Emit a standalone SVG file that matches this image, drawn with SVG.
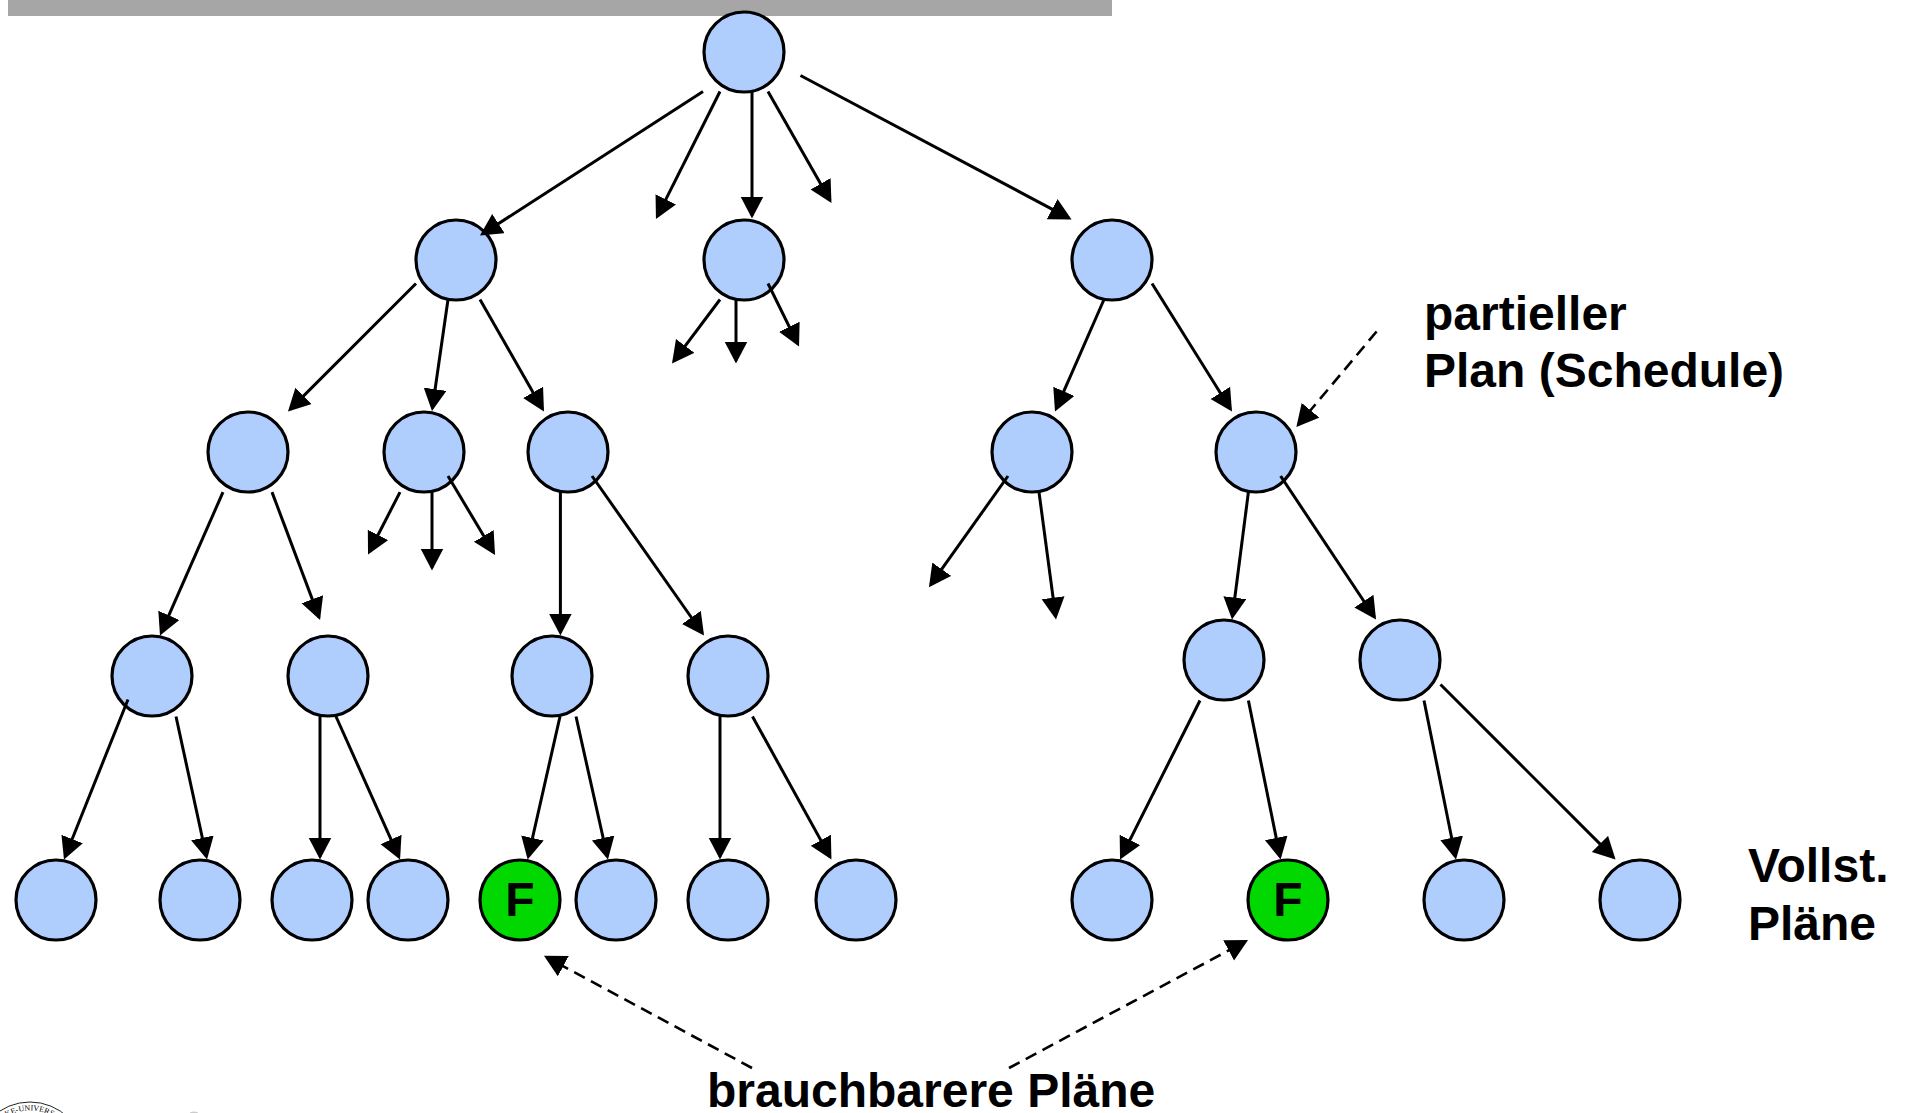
<svg xmlns="http://www.w3.org/2000/svg" width="1906" height="1113" viewBox="0 0 1906 1113">
<style>
.n{fill:#afcefe;stroke:#000;stroke-width:3.2}
.f{fill:#00d800;stroke:#000;stroke-width:3.2}
.e{stroke:#000;stroke-width:3;fill:none;marker-end:url(#a)}
.d{stroke:#000;stroke-width:2.6;fill:none;stroke-dasharray:12 7;marker-end:url(#a)}
text{font-family:"Liberation Sans",Arial,sans-serif;font-weight:700;font-size:48px;fill:#000}
.seal{font-family:"Liberation Serif",serif;font-weight:400;font-size:8px}
</style>
<defs>
<marker id="a" markerUnits="userSpaceOnUse" markerWidth="24" markerHeight="24" refX="19" refY="11.5" orient="auto"><path d="M0 0L22 11.5L0 23z" fill="#000"/></marker>
<path id="sealarc" d="M0 1121.500A46.500 46.500 0 0 1 60 1121.500"/>
</defs>
<rect id="bar" x="8" y="0" width="1104" height="16" fill="#a6a6a6"/>
<g id="nodes">
<g id="n0"><circle class="n" cx="744" cy="52" r="40"/></g>
<g id="n1"><circle class="n" cx="456" cy="260" r="40"/></g>
<g id="n2"><circle class="n" cx="744" cy="260" r="40"/></g>
<g id="n3"><circle class="n" cx="1112" cy="260" r="40"/></g>
<g id="n4"><circle class="n" cx="248" cy="452" r="40"/></g>
<g id="n5"><circle class="n" cx="424" cy="452" r="40"/></g>
<g id="n6"><circle class="n" cx="568" cy="452" r="40"/></g>
<g id="n7"><circle class="n" cx="1032" cy="452" r="40"/></g>
<g id="n8"><circle class="n" cx="1256" cy="452" r="40"/></g>
<g id="n9"><circle class="n" cx="152" cy="676" r="40"/></g>
<g id="n10"><circle class="n" cx="328" cy="676" r="40"/></g>
<g id="n11"><circle class="n" cx="552" cy="676" r="40"/></g>
<g id="n12"><circle class="n" cx="728" cy="676" r="40"/></g>
<g id="n13"><circle class="n" cx="1224" cy="660" r="40"/></g>
<g id="n14"><circle class="n" cx="1400" cy="660" r="40"/></g>
<g id="n15"><circle class="n" cx="56" cy="900" r="40"/></g>
<g id="n16"><circle class="n" cx="200" cy="900" r="40"/></g>
<g id="n17"><circle class="n" cx="312" cy="900" r="40"/></g>
<g id="n18"><circle class="n" cx="408" cy="900" r="40"/></g>
<g id="n19"><circle class="f" cx="520" cy="900" r="40"/><text x="520" y="916" text-anchor="middle">F</text></g>
<g id="n20"><circle class="n" cx="616" cy="900" r="40"/></g>
<g id="n21"><circle class="n" cx="728" cy="900" r="40"/></g>
<g id="n22"><circle class="n" cx="856" cy="900" r="40"/></g>
<g id="n23"><circle class="n" cx="1112" cy="900" r="40"/></g>
<g id="n24"><circle class="f" cx="1288" cy="900" r="40"/><text x="1288" y="916" text-anchor="middle">F</text></g>
<g id="n25"><circle class="n" cx="1464" cy="900" r="40"/></g>
<g id="n26"><circle class="n" cx="1640" cy="900" r="40"/></g>
</g>
<g id="connectors" transform="translate(0 .5)">
<path class="e" d="M703 91L482.500 233.400"/>
<path class="e" d="M720 91L657.300 215.800"/>
<path class="e" d="M752 91V215"/>
<path class="e" d="M768 91L830 199.800"/>
<path class="e" d="M800.500 75L1068.900 217.600"/>
<path class="e" d="M416 283L290.100 408.900"/>
<path class="e" d="M448 299L432.400 407.500"/>
<path class="e" d="M480 299L542.500 408.400"/>
<path class="e" d="M720 299L673.800 360.600"/>
<path class="e" d="M736 299V360"/>
<path class="e" d="M768 283L797.700 343.300"/>
<path class="e" d="M1104 299L1056.200 408.200"/>
<path class="e" d="M1152 283L1230.400 408.500"/>
<path class="e" d="M223 491.600L161.200 632.200"/>
<path class="e" d="M272 491.600L319 616.600"/>
<path class="e" d="M400 491.600L369.400 551.300"/>
<path class="e" d="M432 491.600V567"/>
<path class="e" d="M448 475.500L493.500 551.800"/>
<path class="e" d="M560.400 491.600V632"/>
<path class="e" d="M592 475.500L702.300 632.500"/>
<path class="e" d="M1008 475.500L930.700 584.200"/>
<path class="e" d="M1039 491.600L1055.600 616"/>
<path class="e" d="M1248.400 491.600L1232.400 616"/>
<path class="e" d="M1280.600 475.500L1374.400 616.500"/>
<path class="e" d="M128 699L65.100 856.200"/>
<path class="e" d="M176 716L206.400 856"/>
<path class="e" d="M320 716V856"/>
<path class="e" d="M336 716L398.800 856.300"/>
<path class="e" d="M560 716L528.300 856"/>
<path class="e" d="M576 716L607.300 856"/>
<path class="e" d="M720 716V856"/>
<path class="e" d="M752.500 716L830 856.400"/>
<path class="e" d="M1200 700L1121.400 856.300"/>
<path class="e" d="M1248.400 700L1280 856"/>
<path class="e" d="M1424 700L1455.400 856"/>
<path class="e" d="M1440.500 684L1613.400 856.900"/>
<path class="d" d="M1376.600 331L1298.300 424.300"/>
<path class="d" d="M752 1067.500L546.600 956.700"/>
<path class="d" d="M1009 1067.500L1245.400 941"/>
</g>
<g id="labels">
<text x="1424" y="330">partieller</text>
<text x="1424" y="387">Plan (Schedule)</text>
<text x="1748" y="882">Vollst.</text>
<text x="1748" y="940">Pläne</text>
<text x="707" y="1107">brauchbarere Pläne</text>
</g>
<g id="seal">
<circle cx="30" cy="1157" r="55" fill="none" stroke="#222" stroke-width="1"/>
<text class="seal"><textPath href="#sealarc" startOffset="8">KE-UNIVERS</textPath></text>
<ellipse cx="194" cy="1113" rx="4" ry="1.500" fill="#ccc"/>
</g>
</svg>
